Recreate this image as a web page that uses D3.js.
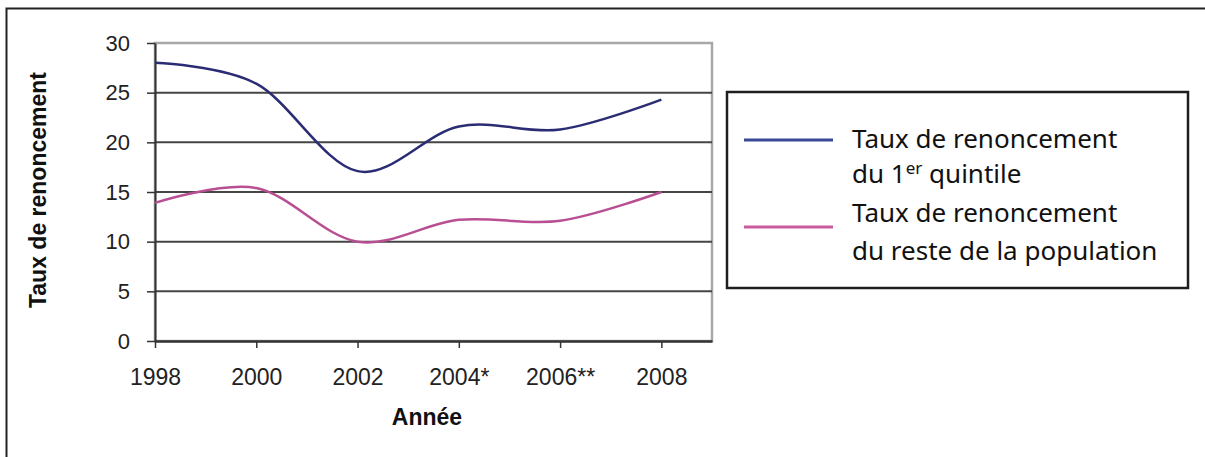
<!DOCTYPE html>
<html>
<head>
<meta charset="utf-8">
<script src="https://cdn.jsdelivr.net/npm/d3@7"></script>
<style>
  html, body { margin: 0; padding: 0; background: #fff; }
  svg { display: block; }
</style>
</head>
<body>
<svg id="chart" width="1205" height="457"></svg>
<script>
// Survey years (starred years flag a change of method)
const years = ["1998", "2000", "2002", "2004*", "2006**", "2008"];
// Share of people giving up care, poorest quintile (%)
const premierQuintile = [28.0, 25.9, 17.1, 21.6, 21.3, 24.3];
// Share of people giving up care, rest of the population (%)
const restePopulation = [13.9, 15.4, 10.0, 12.2, 12.1, 15.0];
const yTicks = [0, 5, 10, 15, 20, 25, 30];

const series = [
  { name: "quintile", values: premierQuintile, color: "#2b2d74", legend: "#3a4898" },
  { name: "reste", values: restePopulation, color: "#b84f92", legend: "#cc5a9e" }
];

const svg = d3.select("#chart");

// Outer frame (top and left edges)
svg.append("path")
  .attr("d", "M1205,8.5 H6.5 V457")
  .attr("fill", "none")
  .attr("stroke", "#222")
  .attr("stroke-width", 2);

const plotL = 155, plotR = 712, plotT = 43, plotB = 341;

const x = d3.scaleLinear().domain([0, 5.5]).range([plotL, plotR]);
const y = d3.scaleLinear().domain([0, 30]).range([plotB, plotT]);

const axisFont = "'Liberation Sans', Arial, sans-serif";

// Plot area border
svg.append("rect")
  .attr("x", plotL).attr("y", plotT)
  .attr("width", plotR - plotL).attr("height", plotB - plotT)
  .attr("fill", "#fff")
  .attr("stroke", "#a8a8a8")
  .attr("stroke-width", 2.5);

// Horizontal gridlines
svg.append("g")
  .selectAll("line")
  .data(yTicks.filter(d => d > 0 && d < 30))
  .join("line")
  .attr("x1", plotL).attr("x2", plotR)
  .attr("y1", d => y(d)).attr("y2", d => y(d))
  .attr("stroke", "#454545")
  .attr("stroke-width", 2);

// Y axis
const yAxis = svg.append("g")
  .attr("transform", `translate(${plotL},0)`)
  .call(d3.axisLeft(y).tickValues(yTicks).tickSize(8).tickPadding(17).tickSizeOuter(0));
yAxis.select(".domain").attr("stroke", "#333").attr("stroke-width", 2);
yAxis.selectAll(".tick line").attr("stroke", "#333").attr("stroke-width", 1.5);
yAxis.selectAll(".tick text")
  .attr("font-family", axisFont)
  .attr("font-size", 22)
  .attr("fill", "#222");

// X axis
const xAxis = svg.append("g")
  .attr("transform", `translate(0,${plotB})`)
  .call(d3.axisBottom(x)
    .tickValues(d3.range(years.length))
    .tickFormat(i => years[i])
    .tickSize(7).tickPadding(21).tickSizeOuter(0));
xAxis.select(".domain").attr("stroke", "#333").attr("stroke-width", 2.5);
xAxis.selectAll(".tick line").attr("stroke", "#333").attr("stroke-width", 1.5);
xAxis.selectAll(".tick text")
  .attr("font-family", axisFont)
  .attr("font-size", 23)
  .attr("fill", "#222");

// Axis titles
svg.append("text")
  .attr("x", 427).attr("y", 425)
  .attr("text-anchor", "middle")
  .attr("font-family", axisFont)
  .attr("font-weight", "bold")
  .attr("font-size", 23)
  .attr("fill", "#111")
  .text("Année");

svg.append("text")
  .attr("transform", "translate(46,190) rotate(-90)")
  .attr("text-anchor", "middle")
  .attr("font-family", axisFont)
  .attr("font-weight", "bold")
  .attr("font-size", 23)
  .attr("fill", "#111")
  .text("Taux de renoncement");

// Smoothed series lines
const line = d3.line()
  .x((d, i) => x(i))
  .y(d => y(d))
  .curve(d3.curveCardinal.tension(0));

svg.append("g")
  .selectAll("path")
  .data(series)
  .join("path")
  .attr("d", d => line(d.values))
  .attr("fill", "none")
  .attr("stroke", d => d.color)
  .attr("stroke-width", 2.5);

// Legend
const lg = svg.append("g");
lg.append("rect")
  .attr("x", 727).attr("y", 92)
  .attr("width", 461).attr("height", 196)
  .attr("fill", "#fff")
  .attr("stroke", "#1e1e1e")
  .attr("stroke-width", 2.5);

const legendFont = "'Noto Sans', 'Open Sans', sans-serif";
const legendRows = [
  { color: series[0].legend, ly: 140 },
  { color: series[1].legend, ly: 227 }
];
legendRows.forEach(r => {
  lg.append("line")
    .attr("x1", 744).attr("x2", 833)
    .attr("y1", r.ly).attr("y2", r.ly)
    .attr("stroke", r.color)
    .attr("stroke-width", 3);
});

function legendText(yb) {
  return lg.append("text")
    .attr("x", 852).attr("y", yb)
    .attr("font-family", legendFont)
    .attr("font-size", 26)
    .attr("fill", "#111");
}
legendText(148).text("Taux de renoncement");
const t2 = legendText(183);
t2.append("tspan").text("du 1");
t2.append("tspan").attr("font-size", 17).attr("dy", -9).text("er");
t2.append("tspan").attr("dy", 9).text(" quintile");
legendText(222).text("Taux de renoncement");
legendText(260).text("du reste de la population");
</script>
</body>
</html>
